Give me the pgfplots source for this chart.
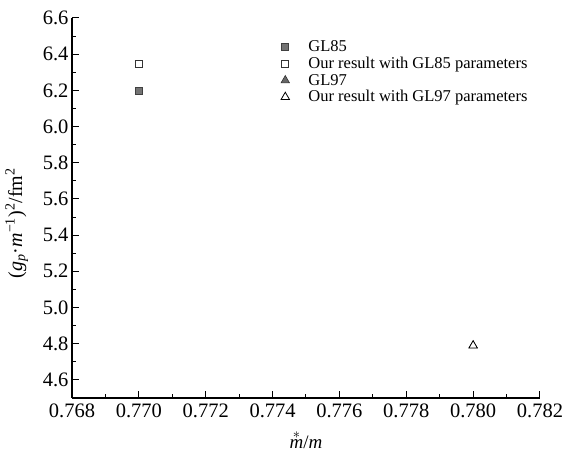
\documentclass[border=0pt]{standalone}
\usepackage{fontspec}
\setmainfont{Liberation Serif}
\usepackage{pgfplots}
\pgfplotsset{compat=1.18}
\begin{document}
\begin{tikzpicture}
\path[use as bounding box] (-72pt,-59pt) rectangle (494pt,398pt);
\begin{axis}[
  at={(0,0)}, anchor=south west,
  scale only axis, width=468pt, height=380pt,
  xmin=0.768, xmax=0.782, ymin=4.5, ymax=6.6,
  axis x line*=bottom, axis y line*=left,
  axis line style={line width=1.1pt, -},
  xtick={0.768,0.770,...,0.7821}, ytick={4.6,4.8,...,6.61},
  minor x tick num=1, minor y tick num=1,
  tick align=inside,
  major tick length=7pt, minor tick length=4pt,
  tick style={line width=1pt, black},
  /pgf/number format/assume math mode=true,
  xticklabel style={/pgf/number format/fixed, /pgf/number format/fixed zerofill, /pgf/number format/precision=3, yshift=-2pt},
  yticklabel style={/pgf/number format/fixed, /pgf/number format/fixed zerofill, /pgf/number format/precision=1},
  scaled x ticks=false,
  tick label style={font=\fontsize{20.5}{22}\selectfont},
  xlabel={$\stackrel{*}{\textit{m}}$/\textit{m}},
  ylabel={(\textit{g}\textsubscript{\textit{p}}·\textit{m}\textsuperscript{−1})\textsuperscript{2}/fm\textsuperscript{2}},
  xlabel style={font=\fontsize{19}{20}\selectfont, yshift=-6pt},
  ylabel style={font=\fontsize{20}{22}\selectfont, at={(axis description cs:-0.118,0.46)}, anchor=center, rotate=0},
  legend style={at={(0.44,0.95)}, anchor=north west, draw=none, fill=none,
    font=\fontsize{16.5}{17}\selectfont, row sep=1pt,
    nodes={inner ysep=1.5pt},
    /tikz/every odd column/.append style={column sep=17pt}},
  legend cell align=left,
]
\addplot[only marks, mark=square*, mark size=3.5pt, mark options={draw=black!75, fill=black!55, line width=0.6pt}] coordinates {(0.770,6.20)};
\addlegendentry{GL85}
\addplot[only marks, mark=square*, mark size=3.5pt, mark options={draw=black!80, fill=white, line width=0.8pt}] coordinates {(0.770,6.345)};
\addlegendentry{Our result with GL85 parameters}
\addplot[only marks, mark=triangle*, mark size=4.8pt, mark options={draw=black!80, fill=black!60, line width=0.6pt}] coordinates {(0.780,4.79)};
\addlegendentry{GL97}
\addplot[only marks, mark=triangle*, mark size=4.8pt, mark options={draw=black, fill=white, line width=0.8pt}] coordinates {(0.780,4.79)};
\addlegendentry{Our result with GL97 parameters}
\end{axis}
\end{tikzpicture}
\end{document}
